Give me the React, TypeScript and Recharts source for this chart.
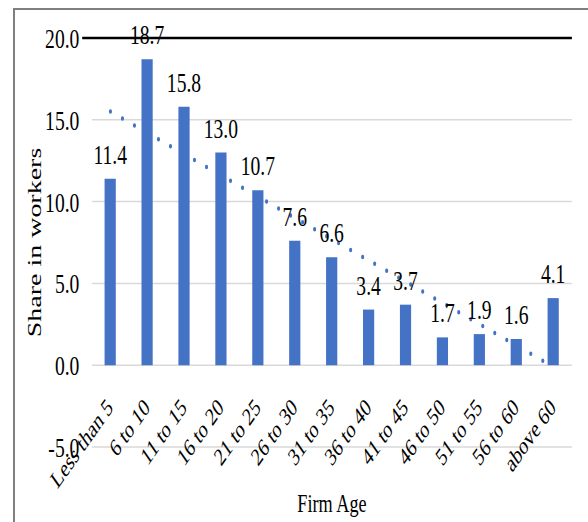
import {
  ComposedChart,
  Bar,
  XAxis,
  YAxis,
  CartesianGrid,
  LabelList,
  ReferenceLine,
} from 'recharts'

const categories = [
  'Less than 5',
  '6 to 10',
  '11 to 15',
  '16 to 20',
  '21 to 25',
  '26 to 30',
  '31 to 35',
  '36 to 40',
  '41 to 45',
  '46 to 50',
  '51 to 55',
  '56 to 60',
  'above 60',
]
const shares = [11.4, 18.7, 15.8, 13.0, 10.7, 7.6, 6.6, 3.4, 3.7, 1.7, 1.9, 1.6, 4.1]
const yTicks = [-5, 0, 5, 10, 15, 20]
// dotted linear trendline, ends
const trendStart = 15.5
const trendEnd = -0.1

const data = categories.map((age, i) => ({ age, share: shares[i] }))

// the reference is squeezed horizontally, so the chart is drawn wide and scaled
const SQUEEZE = 0.7
const W = 840
const H = 522
const serif = '"Liberation Serif", "Times New Roman", serif'
const blue = '#4472C4'

const AgeTick = (props: any) => {
  const { x, y, payload } = props
  const ax = x + 5
  const ay = y - 46
  return (
    <text
      x={ax}
      y={ay}
      textAnchor="end"
      transform={`rotate(-45, ${ax}, ${ay})`}
      fontSize={25}
      fontFamily={serif}
      fill="#000"
    >
      {payload.value}
    </text>
  )
}

const ShareTitle = (props: any) => {
  const { viewBox } = props
  const cx = viewBox.x + 49
  const cy = viewBox.y + viewBox.height / 2
  return (
    <text
      x={cx}
      y={cy}
      textAnchor="middle"
      dominantBaseline="central"
      transform={`rotate(-90, ${cx}, ${cy})`}
      fontSize={28}
      fontFamily={serif}
      fill="#000"
    >
      Share in workers
    </text>
  )
}

const TopRule = (props: any) => (
  <line
    x1={props.x1 - 14}
    y1={props.y1}
    x2={props.x2}
    y2={props.y2}
    stroke="#000"
    strokeWidth={2.6}
  />
)

export default function App() {
  return (
    <div
      style={{
        position: 'absolute',
        left: 0,
        top: 0,
        width: 588,
        height: 522,
        overflow: 'hidden',
        background: '#fff',
      }}
    >
      {/* chart frame, only left and top edges are visible */}
      <div
        style={{
          position: 'absolute',
          left: 13,
          top: 8,
          width: 575,
          height: 514,
          borderLeft: '2px solid #7f7f7f',
          borderTop: '2px solid #7f7f7f',
        }}
      />
      <div
        style={{
          position: 'absolute',
          left: 0,
          top: 0,
          width: W,
          height: H,
          transform: `scaleX(${SQUEEZE})`,
          transformOrigin: '0 0',
        }}
      >
        <ComposedChart
          width={W}
          height={H}
          data={data}
          margin={{ top: 38, right: 23, bottom: 0, left: 0 }}
          barCategoryGap={0}
        >
          <CartesianGrid horizontal vertical={false} stroke="#d9d9d9" strokeWidth={1.5} />
          <XAxis
            dataKey="age"
            axisLine={false}
            tickLine={false}
            interval={0}
            height={75}
            tick={<AgeTick />}
            label={{
              value: 'Firm Age',
              position: 'insideBottom',
              offset: 10,
              fontSize: 26,
              fontFamily: serif,
              fill: '#000',
            }}
          />
          <YAxis
            domain={[-5, 20]}
            ticks={yTicks}
            width={131.4}
            axisLine={false}
            tickLine={false}
            tickMargin={12}
            tickFormatter={(v: number) => v.toFixed(1)}
            tick={{ fontSize: 28, fontFamily: serif, fill: '#000' }}
            label={<ShareTitle />}
          />
          <ReferenceLine
            segment={[
              { x: categories[0], y: trendStart },
              { x: categories[categories.length - 1], y: trendEnd },
            ]}
            stroke={blue}
            strokeWidth={4.5}
            strokeDasharray="0 18.5"
            strokeLinecap="round"
          />
          <Bar dataKey="share" fill={blue} barSize={16} isAnimationActive={false}>
            <LabelList
              dataKey="share"
              position="top"
              offset={15}
              formatter={(v: any) => Number(v).toFixed(1)}
              style={{ fontSize: 28, fontFamily: serif, fill: '#000' }}
            />
          </Bar>
          <ReferenceLine y={20} shape={<TopRule />} />
        </ComposedChart>
      </div>
    </div>
  )
}
